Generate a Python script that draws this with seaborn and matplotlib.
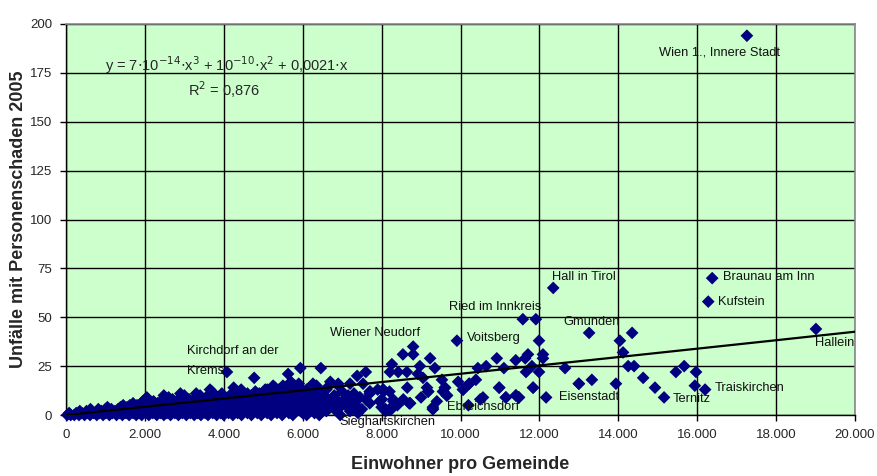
import numpy as np
import pandas as pd
import matplotlib
matplotlib.use("Agg")
import matplotlib.pyplot as plt
import seaborn as sns
from matplotlib.ticker import FuncFormatter, MultipleLocator

# ---------------- data ----------------
# dense cloud of small municipalities: accidents count -> population values
c0 = [30, 120, 210, 330, 470, 610, 780, 940, 1100, 1280, 1430, 1600, 1780, 1920, 2100, 2300, 2480, 2650, 2850, 3050,
      3250, 3420, 3600, 3820, 4000, 4230, 4450, 4700, 4950, 5200, 5480, 5750, 6100, 6420, 6950]
c1 = [80, 260, 400, 560, 700, 850, 1010, 1180, 1350, 1520, 1700, 1860, 2020, 2200, 2390, 2560, 2760, 2950, 3150, 3340,
      3530, 3720, 3920, 4120, 4350, 4600, 4850, 5100, 5350, 5650, 6000, 6300, 7400]
c2 = [350, 520, 660, 900, 1090, 1240, 1400, 1560, 1750, 1900, 2060, 2250, 2430, 2600, 2800, 3000, 3200, 3380, 3580, 3780,
      3980, 4180, 4400, 4650, 4900, 5150, 5420, 5700, 5950, 6200, 6600, 7200, 8100]
c3 = [620, 820, 1000, 1150, 1320, 1480, 1650, 1820, 1980, 2150, 2340, 2520, 2700, 2900, 3100, 3300, 3480, 3680, 3880,
      4080, 4300, 4520, 4780, 5020, 5280, 5560, 5850, 6150, 6450, 6800, 7500, 8250, 8100, 8200, 9300]
c4 = [1050, 1380, 1550, 1720, 1880, 2080, 2280, 2460, 2640, 2830, 3030, 3230, 3430, 3630, 3830, 4040, 4250, 4470, 4720,
      4980, 5230, 5500, 5800, 6050, 6350, 6700, 7150, 8000, 9300, 6440]
c5 = [1450, 1620, 1800, 1960, 2170, 2370, 2550, 2740, 2940, 3140, 3350, 3550, 3750, 3950, 4150, 4380, 4600, 4830, 5080,
      5330, 5600, 5900, 6250, 6550, 7000, 7120, 7350, 8400, 10200]
c6 = [1700, 1900, 2120, 2320, 2500, 2690, 2880, 3080, 3280, 3500, 3700, 3900, 4100, 4320, 4550, 4800, 5050, 5300, 5570,
      5850, 6150, 6500, 7250, 7700, 8700, 8720]
c7 = [1950, 2220, 2600, 2800, 3000, 3200, 3400, 3600, 3800, 4020, 4230, 4480, 4700, 4950, 5200, 5450, 5730, 6000, 6350,
      6850, 6900, 7950, 8300, 9400, 6110]
c8 = [2000, 2450, 2700, 3120, 3350, 3650, 3880, 4100, 4400, 4620, 4900, 5150, 5400, 5680, 5950, 6250, 6650, 7050, 7600,
      8010, 8290, 8550, 10500]
c9 = [2050, 2600, 2900, 3300, 3550, 3850, 4200, 4500, 4780, 5050, 5350, 5620, 5900, 6200, 6360, 6500, 7330, 7450, 9000,
      10570, 11150, 11480]
c10 = [2480, 3000, 3400, 3750, 4150, 4420, 4700, 5000, 5250, 5550, 5850, 6100, 6450, 6800, 7150, 9650, 11400]
c11 = [2900, 3300, 3950, 4600, 4900, 5200, 5500, 5800, 6050, 6400, 7300, 7700]
c12 = [3700, 4300, 4800, 5100, 5450, 5750, 6000, 6300, 7000, 7700, 8050, 8200, 9180, 9560]
c13 = [3650, 4440, 5050, 5100, 5400, 5700, 6100, 6600, 7900, 8040, 10070, 16200]
c14 = [4250, 5300, 5600, 5930, 6620, 8650, 9150, 9600, 10980, 11840, 14930]
c15 = [5250, 5500, 5800, 6350, 6900, 15940]
c16 = [5900, 6260, 6900, 7200, 7530, 10220, 13000, 13940]
c17 = [5700, 6700, 9940]
c18 = [10390, 13330, 9530]
c19 = [4770, 9050, 14630]
c20 = [7380]
c21 = [5630, 8920]
c22 = [4080, 7600, 8210, 8420, 8640, 11660, 11990, 15460, 15970]
c24 = [5940, 6460, 9350, 10440, 11100, 12650]
c25 = [8970, 10650, 11810, 14250, 14400, 15670]
c26 = [8260]
c28 = [11400]
c29 = [9230, 10920, 11640, 12090]
c31 = [8540, 8800, 11710, 12090]
c32 = [14120]
c35 = [8800]
c38 = [9910, 11990, 14040]
c42 = [13260, 14350]
c44 = [19010]
c49 = [11580, 11910]
c58 = [16280]
c65 = [12350]
c70 = [16380]
c194 = [17260]

# extra scattered points in the 6,000-16,000 range (population, accidents)
extra_x = [7330, 7450, 7710, 8040, 8090, 8210, 8720, 9180, 9300, 9560, 9610, 9660, 10060, 10220, 10980, 11150,
           11410, 11480, 11840, 12170, 13000, 15160]
extra_y = [9, 9, 12, 13, 3, 3, 6, 12, 3, 12, 14, 10, 13, 16, 14, 9, 10, 9, 14, 9, 16, 9]

# trendline coefficients as printed in the chart
coef_a3 = 7e-14
coef_a2 = 1e-10
coef_a1 = 0.0021

# point annotations: text, x, y (text anchor, left/centre)
label_text = ["Wien 1., Innere Stadt", "Hall in Tirol", "Braunau am Inn", "Kufstein", "Hallein", "Gmunden",
              "Ried im Innkreis", "Voitsberg", "Traiskirchen", "Ternitz", "Eisenstadt", "Ebreichsdorf",
              "Wiener Neudorf", "Kirchdorf an der", "Krems", "Sieghartskirchen"]
label_x = [15030, 12330, 16650, 16520, 18980, 12600, 9700, 10160, 16450, 15380, 12500, 9650, 6690, 3060, 3060, 6940]
label_y = [185.3, 70.6, 70.6, 57.8, 36.8, 47.6, 55.2, 39.4, 13.8, 8.2, 9.2, 4.1, 42.0, 32.7, 22.5, -3.8]

# ---------------- build table ----------------
levels = {0: c0, 1: c1, 2: c2, 3: c3, 4: c4, 5: c5, 6: c6, 7: c7, 8: c8, 9: c9, 10: c10, 11: c11, 12: c12,
          13: c13, 14: c14, 15: c15, 16: c16, 17: c17, 18: c18, 19: c19, 20: c20, 21: c21, 22: c22, 24: c24,
          25: c25, 26: c26, 28: c28, 29: c29, 31: c31, 32: c32, 35: c35, 38: c38, 42: c42, 44: c44, 49: c49,
          58: c58, 65: c65, 70: c70, 194: c194}
xs, ys = [], []
for yv, lst in levels.items():
    xs += lst
    ys += [yv] * len(lst)
xs += extra_x
ys += extra_y
df = pd.DataFrame({"Einwohner": xs, "Unfaelle": ys})

# ---------------- plot ----------------
sns.set_style("white")
plt.rcParams["font.family"] = ["Liberation Sans", "DejaVu Sans"]

fig = plt.figure(figsize=(8.77, 4.76), dpi=100, facecolor="white")
ax = fig.add_axes([66 / 877, 61 / 476, 789 / 877, 391 / 476])
ax.set_facecolor("#CCFFCC")

ax.set_xlim(0, 20000)
ax.set_ylim(0, 200)
ax.xaxis.set_major_locator(MultipleLocator(2000))
ax.yaxis.set_major_locator(MultipleLocator(25))
ax.grid(True, color="black", linewidth=1.0)
ax.set_axisbelow(True)

sns.scatterplot(data=df, x="Einwohner", y="Unfaelle", ax=ax, marker="D", s=42, color="#000080",
                edgecolor="none", linewidth=0, clip_on=False, zorder=3, legend=False)

tx = np.linspace(0, 20000, 200)
ty = coef_a3 * tx ** 3 + coef_a2 * tx ** 2 + coef_a1 * tx
sns.lineplot(x=tx, y=ty, ax=ax, color="black", linewidth=1.6, zorder=4)

for t, x, y in zip(label_text, label_x, label_y):
    ax.text(x, y, t, fontsize=9.3, ha="left", va="center", color="#111111", zorder=5, clip_on=False)

ax.text(990, 179, r"y = 7$\cdot$10$^{-14}$$\cdot$x$^3$ + 10$^{-10}$$\cdot$x$^2$ + 0,0021$\cdot$x",
        fontsize=10.5, ha="left", va="center", zorder=5)
ax.text(3090, 166.5, r"R$^2$ = 0,876", fontsize=10.5, ha="left", va="center", zorder=5)

fmt = FuncFormatter(lambda v, p: f"{int(v):,}".replace(",", "."))
ax.xaxis.set_major_formatter(fmt)
ax.tick_params(axis="both", which="major", direction="out", length=4, width=1, color="black",
               labelsize=9.5, bottom=True, left=True)
ax.tick_params(axis="x", pad=6)
ax.tick_params(axis="y", pad=6)

for s in ["left", "bottom"]:
    ax.spines[s].set_color("black")
    ax.spines[s].set_linewidth(1)
for s in ["top", "right"]:
    ax.spines[s].set_color("#888888")
    ax.spines[s].set_linewidth(1.2)

ax.set_xlabel("Einwohner pro Gemeinde", fontsize=13, fontweight="bold", labelpad=11)
ax.set_ylabel("Unfälle mit Personenschaden 2005", fontsize=13, fontweight="bold")
ax.yaxis.set_label_coords(-0.049, 0.5)

fig.savefig("out.png", dpi=100, facecolor=fig.get_facecolor())
